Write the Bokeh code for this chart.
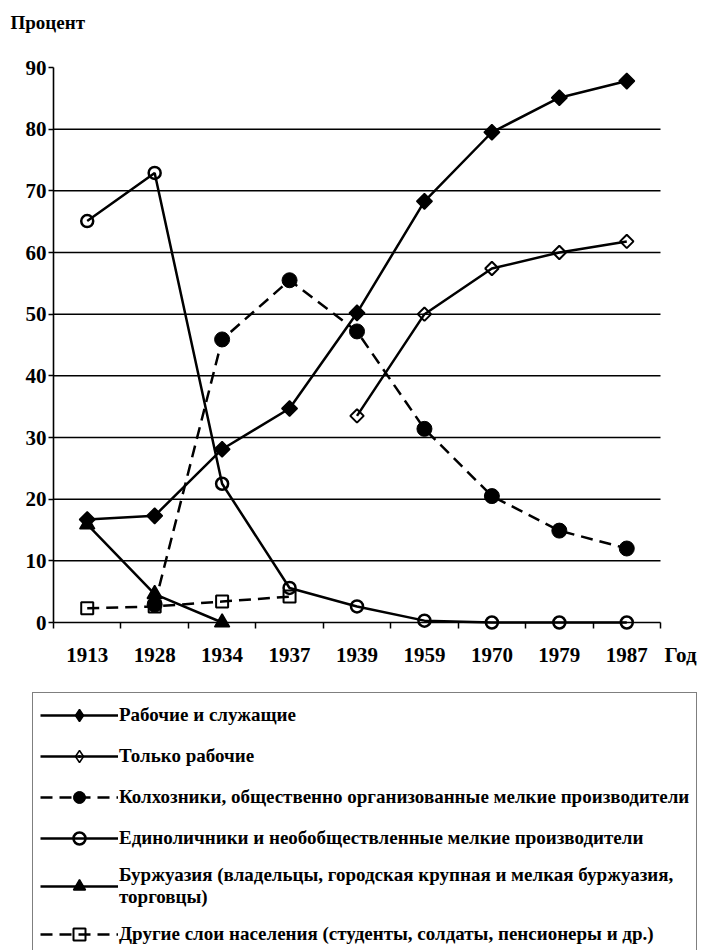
import numpy as np
from bokeh.plotting import figure
from bokeh.models import Range1d, FixedTicker, Legend, LegendItem, Label, ColumnDataSource, LinearAxis
from bokeh.embed import file_html
from bokeh.resources import INLINE

# ---- data ----
years = ["1913", "1928", "1934", "1937", "1939", "1959", "1970", "1979", "1987"]
workers_employees = [16.7, 17.3, 28.1, 34.7, 50.2, 68.3, 79.5, 85.1, 87.8]
workers_only = [None, None, None, None, 33.5, 50.0, 57.4, 60.0, 61.8]
kolkhozniki = [None, 2.9, 45.9, 55.5, 47.2, 31.4, 20.5, 14.9, 12.0]
edinolichniki = [65.1, 72.9, 22.5, 5.6, 2.6, 0.3, 0.0, 0.0, 0.0]
bourgeoisie = [15.9, 4.6, 0.0, None, None, None, None, None, None]
others = [2.3, 2.6, 3.4, 4.2, None, None, None, None, None]
y_ticks = [0, 10, 20, 30, 40, 50, 60, 70, 80, 90]
grid_ticks = [10, 20, 30, 40, 50, 60, 70, 80]
y_max = 90

labels = [
    "Рабочие и служащие",
    "Только рабочие",
    "Колхозники, общественно организованные мелкие производители",
    "Единоличники и необобществленные мелкие производители",
    "Буржуазия (владельцы, городская крупная и мелкая буржуазия,\nторговцы)",
    "Другие слои населения (студенты, солдаты, пенсионеры и др.)",
]

FONT = "Liberation Serif"
W, H = 704, 950
# plot area in canvas pixels
PL, PR, PT, PB = 53, 660, 67, 622

n = len(years)
xs = [i + 0.5 for i in range(n)]

x_per = (PR - PL) / n
y_per = (PB - PT) / y_max
x0 = -PL / x_per
x1 = x0 + W / x_per
y1 = y_max + PT / y_per
y0 = y1 - H / y_per

p = figure(width=W, height=H, output_backend="svg", toolbar_location=None,
           x_range=Range1d(x0, x1), y_range=Range1d(y0, y1),
           x_axis_location=None, y_axis_location=None, min_border=0)
p.outline_line_color = None
p.background_fill_color = "white"
p.xgrid.visible = False
p.ygrid.visible = False

# horizontal grid lines across the plot area
p.segment(x0=[0] * len(grid_ticks), x1=[n] * len(grid_ticks), y0=grid_ticks, y1=grid_ticks,
          line_color="black", line_width=1.5)

xaxis = LinearAxis(fixed_location=0, bounds=(0, n))
xaxis.ticker = FixedTicker(ticks=xs, minor_ticks=list(range(n + 1)))
xaxis.major_label_overrides = {x: y for x, y in zip(xs, years)}
xaxis.major_tick_out = 0
xaxis.major_tick_in = 0
xaxis.minor_tick_out = 6
xaxis.minor_tick_in = 0
xaxis.minor_tick_line_width = 1.5
xaxis.minor_tick_line_color = "black"
xaxis.major_label_standoff = 19
yaxis = LinearAxis(fixed_location=0, bounds=(0, y_max))
yaxis.ticker = FixedTicker(ticks=y_ticks)
yaxis.major_tick_out = 5
yaxis.major_tick_in = 0
yaxis.minor_tick_out = 0
yaxis.major_label_standoff = 2
for ax in (xaxis, yaxis):
    ax.axis_line_color = "black"
    ax.axis_line_width = 1.6
    ax.major_tick_line_color = "black"
    ax.major_tick_line_width = 1.5
    ax.major_label_text_font = FONT
    ax.major_label_text_font_style = "bold"
    ax.major_label_text_font_size = "21px"
    ax.major_label_text_color = "black"
p.add_layout(xaxis, "below")
p.add_layout(yaxis, "left")

def arr(v):
    return np.array([np.nan if a is None else a for a in v], dtype=float)

series = [
    (workers_employees, dict(marker="square", size=11, angle=np.pi / 4, fill_color="black", line_width=1.5), None,
     dict(marker="diamond", fill_color="black", line_width=1.5)),
    (workers_only, dict(marker="square", size=9.5, angle=np.pi / 4, fill_color=None, line_width=2), None,
     dict(marker="diamond_dot", fill_color=None, line_width=1.5)),
    (kolkhozniki, dict(marker="circle", size=15, fill_color="black", line_width=1), "12 7", None),
    (edinolichniki, dict(marker="circle", size=12, fill_color=None, line_width=2.5), None, None),
    (bourgeoisie, dict(marker="triangle", size=15, fill_color="black", line_width=1.5), None, None),
    (others, dict(marker="square", size=12, fill_color=None, line_width=2), "12 7", None),
]

items = []
for (vals, mk, dash, legmk), lab in zip(series, labels):
    src = ColumnDataSource(data=dict(x=xs, y=arr(vals)))
    lkw = dict(line_color="black", line_width=2.5)
    if dash:
        lkw["line_dash"] = dash
    lr = p.line("x", "y", source=src, **lkw)
    sr = p.scatter("x", "y", source=src, line_color="black", **mk)
    if legmk is not None:
        hr = p.scatter("x", "y", source=src, line_color="black", visible=False, **legmk)
        items.append(LegendItem(label=lab, renderers=[lr, hr]))
    else:
        items.append(LegendItem(label=lab, renderers=[lr, sr]))

legend = Legend(items=items, location=(32, -7), orientation="vertical",
                glyph_width=78, glyph_height=30, label_standoff=1,
                label_text_font=FONT, label_text_font_style="bold",
                label_text_font_size="19px", label_text_color="black",
                label_height=20, spacing=11,
                padding=7, margin=0,
                inactive_fill_alpha=0.0,
                border_line_color="black", border_line_width=1.5,
                background_fill_color="white", background_fill_alpha=1.0)
p.add_layout(legend, "center")

p.add_layout(Label(x=n, y=0, x_offset=4, y_offset=-32, text="Год",
                   text_font=FONT, text_font_style="bold", text_font_size="21px",
                   text_color="black", text_baseline="middle", text_align="left"))
p.add_layout(Label(x=10, y=H - 22, x_units="screen", y_units="screen", text="Процент",
                   text_font=FONT, text_font_style="bold", text_font_size="19px",
                   text_color="black", text_baseline="middle", text_align="left"))

open("out.html", "w").write(file_html(p, INLINE))
